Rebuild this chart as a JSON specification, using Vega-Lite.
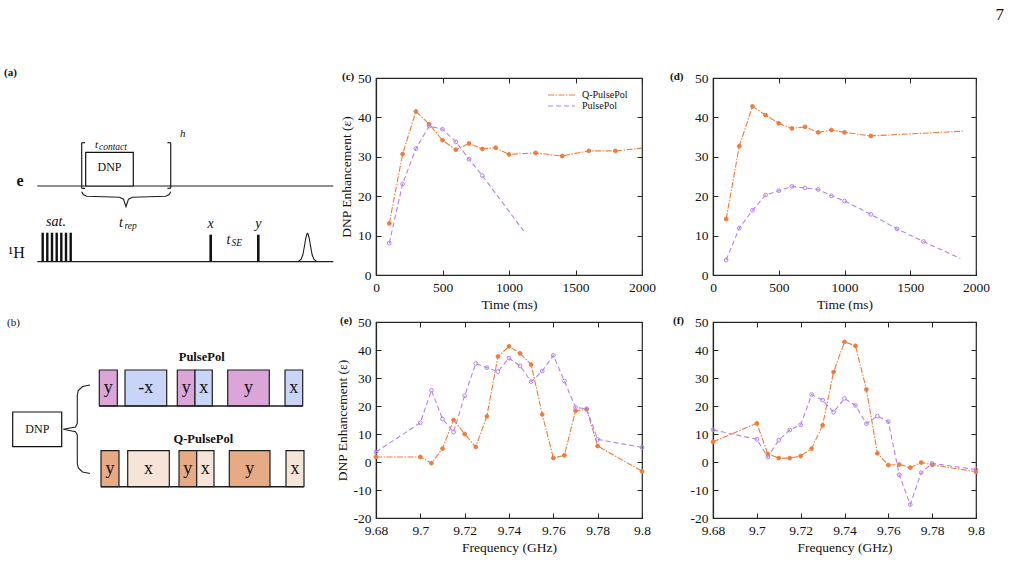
{
  "$schema": "https://vega.github.io/schema/vega-lite/v6.json",
  "background": "white",
  "padding": {"top": 6, "left": 0, "right": 0, "bottom": 0},
  "autosize": {"type": "pad"},
  "title": {"text": "7", "anchor": "end", "frame": "bounds", "dx": 14, "offset": 43, "fontSize": 17, "fontWeight": "normal", "font": "Liberation Serif", "color": "#111"},
  "columns": 3,
  "spacing": {"column": 71, "row": 47},
  "bounds": "flush",
  "resolve": {
    "scale": {"color": "independent", "strokeDash": "independent", "fill": "independent"}
  },
  "datasets": {
    "seqSegments": [
      {"x": 37.3, "y": 108, "x2": 333.3, "y2": 108},
      {"x": 37.3, "y": 183.7, "x2": 333.3, "y2": 183.7},
      {"x": 81.7, "y": 64.7, "x2": 81.7, "y2": 110.3},
      {"x": 81.7, "y": 64.7, "x2": 85, "y2": 64.7},
      {"x": 81.7, "y": 110.3, "x2": 85, "y2": 110.3},
      {"x": 170.7, "y": 64.7, "x2": 170.7, "y2": 110.3},
      {"x": 167.4, "y": 64.7, "x2": 170.7, "y2": 64.7},
      {"x": 167.4, "y": 110.3, "x2": 170.7, "y2": 110.3}
    ],
    "seqPulses": [
      {"x": 41.5, "x2": 43.9, "y": 154.7, "y2": 183.7},
      {"x": 46.1, "x2": 48.5, "y": 154.7, "y2": 183.7},
      {"x": 50.8, "x2": 53.2, "y": 154.7, "y2": 183.7},
      {"x": 55.5, "x2": 57.9, "y": 154.7, "y2": 183.7},
      {"x": 60.1, "x2": 62.5, "y": 154.7, "y2": 183.7},
      {"x": 64.8, "x2": 67.2, "y": 154.7, "y2": 183.7},
      {"x": 69.5, "x2": 71.9, "y": 154.7, "y2": 183.7},
      {"x": 209.4, "x2": 212.0, "y": 156.7, "y2": 183.7},
      {"x": 257.0, "x2": 259.6, "y": 156.7, "y2": 183.7}
    ],
    "seqBox": [{"x": 85.7, "x2": 133.3, "y": 74.3, "y2": 108}],
    "seqCurves": [
      {"part": "rep", "k": 1, "x": 81.7, "y": 113.7},
      {"part": "rep", "k": 2, "x": 83.2, "y": 116.6},
      {"part": "rep", "k": 3, "x": 86.7, "y": 118.3},
      {"part": "rep", "k": 4, "x": 119.5, "y": 119.2},
      {"part": "rep", "k": 5, "x": 123.5, "y": 121.2},
      {"part": "rep", "k": 6, "x": 126, "y": 128.7},
      {"part": "rep", "k": 7, "x": 128.5, "y": 121.2},
      {"part": "rep", "k": 8, "x": 132.5, "y": 119.2},
      {"part": "rep", "k": 9, "x": 165.7, "y": 118.3},
      {"part": "rep", "k": 10, "x": 169.2, "y": 116.6},
      {"part": "rep", "k": 11, "x": 170.7, "y": 113.7},
      {"part": "echo", "k": 1, "x": 298, "y": 183.7},
      {"part": "echo", "k": 2, "x": 301, "y": 181.5},
      {"part": "echo", "k": 3, "x": 302.8, "y": 177},
      {"part": "echo", "k": 4, "x": 304.3, "y": 169},
      {"part": "echo", "k": 5, "x": 305.7, "y": 160.5},
      {"part": "echo", "k": 6, "x": 307, "y": 155.8},
      {"part": "echo", "k": 7, "x": 307.5, "y": 155.3},
      {"part": "echo", "k": 8, "x": 308, "y": 155.8},
      {"part": "echo", "k": 9, "x": 309.3, "y": 160.5},
      {"part": "echo", "k": 10, "x": 310.7, "y": 169},
      {"part": "echo", "k": 11, "x": 312.2, "y": 177},
      {"part": "echo", "k": 12, "x": 314, "y": 181.5},
      {"part": "echo", "k": 13, "x": 317, "y": 183.7}
    ],
    "seqText": [
      {"x": 4, "y": -5, "label": "(a)", "role": "tag"},
      {"x": 20, "y": 102.7, "label": "e", "role": "spin"},
      {"x": 16.5, "y": 175, "label": "¹H", "role": "nucleus"},
      {"x": 109.5, "y": 89, "label": "DNP", "role": "box"},
      {"x": 182.7, "y": 56, "label": "h", "role": "symSmall"},
      {"x": 96.5, "y": 67, "label": "t", "role": "symSmall"},
      {"x": 99, "y": 69, "label": "contact", "role": "sub"},
      {"x": 121, "y": 144.7, "label": "t", "role": "sym"},
      {"x": 124.5, "y": 147.5, "label": "rep", "role": "sub"},
      {"x": 56, "y": 144.3, "label": "sat.", "role": "sym"},
      {"x": 210.7, "y": 146, "label": "x", "role": "sym"},
      {"x": 258.3, "y": 146, "label": "y", "role": "sym"},
      {"x": 228.5, "y": 162, "label": "t", "role": "sym"},
      {"x": 231.5, "y": 165, "label": "SE", "role": "sub"}
    ],
    "cycleLines": [
      {"x": 99.3, "y": 84, "x2": 302.7, "y2": 84},
      {"x": 101, "y": 164.7, "x2": 304, "y2": 164.7}
    ],
    "cycleBlocks": [
      {"x": 99.3, "x2": 117.3, "y": 48, "y2": 84, "pulse": "PulsePol y"},
      {"x": 125, "x2": 166.7, "y": 48, "y2": 84, "pulse": "PulsePol x"},
      {"x": 177.3, "x2": 195, "y": 48, "y2": 84, "pulse": "PulsePol y"},
      {"x": 195, "x2": 212.3, "y": 48, "y2": 84, "pulse": "PulsePol x"},
      {"x": 227.7, "x2": 269.3, "y": 48, "y2": 84, "pulse": "PulsePol y"},
      {"x": 285, "x2": 302.7, "y": 48, "y2": 84, "pulse": "PulsePol x"},
      {"x": 101, "x2": 119, "y": 128.7, "y2": 164.7, "pulse": "Q-PulsePol y"},
      {"x": 127.7, "x2": 169.3, "y": 128.7, "y2": 164.7, "pulse": "Q-PulsePol x"},
      {"x": 179, "x2": 196.7, "y": 128.7, "y2": 164.7, "pulse": "Q-PulsePol y"},
      {"x": 196.7, "x2": 214, "y": 128.7, "y2": 164.7, "pulse": "Q-PulsePol x"},
      {"x": 229.3, "x2": 270, "y": 128.7, "y2": 164.7, "pulse": "Q-PulsePol y"},
      {"x": 286, "x2": 304, "y": 128.7, "y2": 164.7, "pulse": "Q-PulsePol x"}
    ],
    "cycleBox": [{"x": 12.7, "x2": 61.7, "y": 90, "y2": 124.7}],
    "cycleBrace": [
      {"k": 1, "x": 90, "y": 63},
      {"k": 2, "x": 82.5, "y": 64.5},
      {"k": 3, "x": 78.3, "y": 68.5},
      {"k": 4, "x": 77.3, "y": 73},
      {"k": 5, "x": 77.3, "y": 101.3},
      {"k": 6, "x": 75.5, "y": 105},
      {"k": 7, "x": 63.3, "y": 107.3},
      {"k": 8, "x": 75.5, "y": 109.7},
      {"k": 9, "x": 77.3, "y": 113},
      {"k": 10, "x": 77.3, "y": 141.3},
      {"k": 11, "x": 78.3, "y": 146},
      {"k": 12, "x": 82.5, "y": 150},
      {"k": 13, "x": 90, "y": 151.5}
    ],
    "cycleText": [
      {"x": 7, "y": 0.7, "label": "(b)", "role": "tag"},
      {"x": 37.3, "y": 107.3, "label": "DNP", "role": "box"},
      {"x": 201.7, "y": 34.7, "label": "PulsePol", "role": "scheme"},
      {"x": 203.3, "y": 117.3, "label": "Q-PulsePol", "role": "scheme"},
      {"x": 108.3, "y": 66, "label": "y", "role": "phase"},
      {"x": 145.8, "y": 66, "label": "-x", "role": "phase"},
      {"x": 186.2, "y": 66, "label": "y", "role": "phase"},
      {"x": 203.7, "y": 66, "label": "x", "role": "phase"},
      {"x": 248.5, "y": 66, "label": "y", "role": "phase"},
      {"x": 293.8, "y": 66, "label": "x", "role": "phase"},
      {"x": 110, "y": 146.7, "label": "y", "role": "phase"},
      {"x": 148.5, "y": 146.7, "label": "x", "role": "phase"},
      {"x": 187.8, "y": 146.7, "label": "y", "role": "phase"},
      {"x": 205.3, "y": 146.7, "label": "x", "role": "phase"},
      {"x": 249.7, "y": 146.7, "label": "y", "role": "phase"},
      {"x": 295, "y": 146.7, "label": "x", "role": "phase"}
    ],
    "contactTimeA": [
      {"series": "Q-PulsePol", "time_ms": 100, "enh": 13.1},
      {"series": "Q-PulsePol", "time_ms": 200, "enh": 30.7},
      {"series": "Q-PulsePol", "time_ms": 300, "enh": 41.5},
      {"series": "Q-PulsePol", "time_ms": 400, "enh": 38.3},
      {"series": "Q-PulsePol", "time_ms": 500, "enh": 34.2},
      {"series": "Q-PulsePol", "time_ms": 600, "enh": 31.8},
      {"series": "Q-PulsePol", "time_ms": 700, "enh": 33.4},
      {"series": "Q-PulsePol", "time_ms": 800, "enh": 32.0},
      {"series": "Q-PulsePol", "time_ms": 900, "enh": 32.3},
      {"series": "Q-PulsePol", "time_ms": 1000, "enh": 30.6},
      {"series": "Q-PulsePol", "time_ms": 1200, "enh": 31.0},
      {"series": "Q-PulsePol", "time_ms": 1400, "enh": 30.2},
      {"series": "Q-PulsePol", "time_ms": 1600, "enh": 31.5},
      {"series": "Q-PulsePol", "time_ms": 1800, "enh": 31.5},
      {"series": "Q-PulsePol", "time_ms": 2000, "enh": 32.2},
      {"series": "PulsePol", "time_ms": 100, "enh": 8.1},
      {"series": "PulsePol", "time_ms": 200, "enh": 23.1},
      {"series": "PulsePol", "time_ms": 300, "enh": 32.1},
      {"series": "PulsePol", "time_ms": 400, "enh": 37.8},
      {"series": "PulsePol", "time_ms": 500, "enh": 37.0},
      {"series": "PulsePol", "time_ms": 600, "enh": 33.8},
      {"series": "PulsePol", "time_ms": 700, "enh": 29.4},
      {"series": "PulsePol", "time_ms": 800, "enh": 25.2},
      {"series": "PulsePol", "time_ms": 1110, "enh": 11.2}
    ],
    "contactTimeB": [
      {"series": "Q-PulsePol", "time_ms": 100, "enh": 14.2},
      {"series": "Q-PulsePol", "time_ms": 200, "enh": 32.7},
      {"series": "Q-PulsePol", "time_ms": 300, "enh": 42.8},
      {"series": "Q-PulsePol", "time_ms": 400, "enh": 40.6},
      {"series": "Q-PulsePol", "time_ms": 500, "enh": 38.5},
      {"series": "Q-PulsePol", "time_ms": 600, "enh": 37.2},
      {"series": "Q-PulsePol", "time_ms": 700, "enh": 37.6},
      {"series": "Q-PulsePol", "time_ms": 800, "enh": 36.2},
      {"series": "Q-PulsePol", "time_ms": 900, "enh": 36.8},
      {"series": "Q-PulsePol", "time_ms": 1000, "enh": 36.2},
      {"series": "Q-PulsePol", "time_ms": 1200, "enh": 35.3},
      {"series": "Q-PulsePol", "time_ms": 1900, "enh": 36.5},
      {"series": "PulsePol", "time_ms": 100, "enh": 3.8},
      {"series": "PulsePol", "time_ms": 200, "enh": 11.9},
      {"series": "PulsePol", "time_ms": 300, "enh": 16.4},
      {"series": "PulsePol", "time_ms": 400, "enh": 20.3},
      {"series": "PulsePol", "time_ms": 500, "enh": 21.4},
      {"series": "PulsePol", "time_ms": 600, "enh": 22.5},
      {"series": "PulsePol", "time_ms": 700, "enh": 22.1},
      {"series": "PulsePol", "time_ms": 800, "enh": 21.7},
      {"series": "PulsePol", "time_ms": 900, "enh": 20.1},
      {"series": "PulsePol", "time_ms": 1000, "enh": 18.8},
      {"series": "PulsePol", "time_ms": 1200, "enh": 15.4},
      {"series": "PulsePol", "time_ms": 1400, "enh": 11.7},
      {"series": "PulsePol", "time_ms": 1600, "enh": 8.5},
      {"series": "PulsePol", "time_ms": 1880, "enh": 4.2}
    ],
    "sweepA": [
      {"series": "Q-PulsePol", "freq_GHz": 9.68, "enh": 1.8},
      {"series": "Q-PulsePol", "freq_GHz": 9.7, "enh": 1.8},
      {"series": "Q-PulsePol", "freq_GHz": 9.705, "enh": -0.4},
      {"series": "Q-PulsePol", "freq_GHz": 9.71, "enh": 4.8},
      {"series": "Q-PulsePol", "freq_GHz": 9.715, "enh": 15.0},
      {"series": "Q-PulsePol", "freq_GHz": 9.72, "enh": 10.0},
      {"series": "Q-PulsePol", "freq_GHz": 9.725, "enh": 5.4},
      {"series": "Q-PulsePol", "freq_GHz": 9.73, "enh": 16.3},
      {"series": "Q-PulsePol", "freq_GHz": 9.735, "enh": 37.7},
      {"series": "Q-PulsePol", "freq_GHz": 9.74, "enh": 41.3},
      {"series": "Q-PulsePol", "freq_GHz": 9.745, "enh": 38.8},
      {"series": "Q-PulsePol", "freq_GHz": 9.75, "enh": 34.8},
      {"series": "Q-PulsePol", "freq_GHz": 9.755, "enh": 17.0},
      {"series": "Q-PulsePol", "freq_GHz": 9.76, "enh": 1.4},
      {"series": "Q-PulsePol", "freq_GHz": 9.765, "enh": 2.4},
      {"series": "Q-PulsePol", "freq_GHz": 9.77, "enh": 18.3},
      {"series": "Q-PulsePol", "freq_GHz": 9.775, "enh": 18.8},
      {"series": "Q-PulsePol", "freq_GHz": 9.78, "enh": 5.7},
      {"series": "Q-PulsePol", "freq_GHz": 9.8, "enh": -3.3},
      {"series": "PulsePol", "freq_GHz": 9.68, "enh": 3.6},
      {"series": "PulsePol", "freq_GHz": 9.7, "enh": 14.0},
      {"series": "PulsePol", "freq_GHz": 9.705, "enh": 25.6},
      {"series": "PulsePol", "freq_GHz": 9.71, "enh": 15.4},
      {"series": "PulsePol", "freq_GHz": 9.715, "enh": 10.7},
      {"series": "PulsePol", "freq_GHz": 9.72, "enh": 23.7},
      {"series": "PulsePol", "freq_GHz": 9.725, "enh": 35.2},
      {"series": "PulsePol", "freq_GHz": 9.73, "enh": 33.7},
      {"series": "PulsePol", "freq_GHz": 9.735, "enh": 32.3},
      {"series": "PulsePol", "freq_GHz": 9.74, "enh": 37.1},
      {"series": "PulsePol", "freq_GHz": 9.745, "enh": 34.3},
      {"series": "PulsePol", "freq_GHz": 9.75, "enh": 28.7},
      {"series": "PulsePol", "freq_GHz": 9.755, "enh": 32.5},
      {"series": "PulsePol", "freq_GHz": 9.76, "enh": 38.1},
      {"series": "PulsePol", "freq_GHz": 9.765, "enh": 28.9},
      {"series": "PulsePol", "freq_GHz": 9.77, "enh": 19.5},
      {"series": "PulsePol", "freq_GHz": 9.775, "enh": 19.0},
      {"series": "PulsePol", "freq_GHz": 9.78, "enh": 8.1},
      {"series": "PulsePol", "freq_GHz": 9.8, "enh": 5.2}
    ],
    "sweepB": [
      {"series": "Q-PulsePol", "freq_GHz": 9.68, "enh": 7.2},
      {"series": "Q-PulsePol", "freq_GHz": 9.7, "enh": 13.8},
      {"series": "Q-PulsePol", "freq_GHz": 9.705, "enh": 2.9},
      {"series": "Q-PulsePol", "freq_GHz": 9.71, "enh": 1.4},
      {"series": "Q-PulsePol", "freq_GHz": 9.715, "enh": 1.4},
      {"series": "Q-PulsePol", "freq_GHz": 9.72, "enh": 2.1},
      {"series": "Q-PulsePol", "freq_GHz": 9.725, "enh": 4.8},
      {"series": "Q-PulsePol", "freq_GHz": 9.73, "enh": 13.1},
      {"series": "Q-PulsePol", "freq_GHz": 9.735, "enh": 32.1},
      {"series": "Q-PulsePol", "freq_GHz": 9.74, "enh": 42.9},
      {"series": "Q-PulsePol", "freq_GHz": 9.745, "enh": 41.5},
      {"series": "Q-PulsePol", "freq_GHz": 9.75, "enh": 25.9},
      {"series": "Q-PulsePol", "freq_GHz": 9.755, "enh": 3.1},
      {"series": "Q-PulsePol", "freq_GHz": 9.76, "enh": -1.1},
      {"series": "Q-PulsePol", "freq_GHz": 9.765, "enh": -0.9},
      {"series": "Q-PulsePol", "freq_GHz": 9.77, "enh": -2.0},
      {"series": "Q-PulsePol", "freq_GHz": 9.775, "enh": -0.2},
      {"series": "Q-PulsePol", "freq_GHz": 9.78, "enh": -1.0},
      {"series": "Q-PulsePol", "freq_GHz": 9.8, "enh": -3.5},
      {"series": "PulsePol", "freq_GHz": 9.68, "enh": 11.5},
      {"series": "PulsePol", "freq_GHz": 9.7, "enh": 8.1},
      {"series": "PulsePol", "freq_GHz": 9.705, "enh": 1.8},
      {"series": "PulsePol", "freq_GHz": 9.71, "enh": 7.8},
      {"series": "PulsePol", "freq_GHz": 9.715, "enh": 11.4},
      {"series": "PulsePol", "freq_GHz": 9.72, "enh": 13.3},
      {"series": "PulsePol", "freq_GHz": 9.725, "enh": 24.1},
      {"series": "PulsePol", "freq_GHz": 9.73, "enh": 22.1},
      {"series": "PulsePol", "freq_GHz": 9.735, "enh": 17.8},
      {"series": "PulsePol", "freq_GHz": 9.74, "enh": 22.7},
      {"series": "PulsePol", "freq_GHz": 9.745, "enh": 20.2},
      {"series": "PulsePol", "freq_GHz": 9.75, "enh": 13.7},
      {"series": "PulsePol", "freq_GHz": 9.755, "enh": 16.4},
      {"series": "PulsePol", "freq_GHz": 9.76, "enh": 14.4},
      {"series": "PulsePol", "freq_GHz": 9.765, "enh": -4.6},
      {"series": "PulsePol", "freq_GHz": 9.77, "enh": -15.2},
      {"series": "PulsePol", "freq_GHz": 9.775, "enh": -3.8},
      {"series": "PulsePol", "freq_GHz": 9.78, "enh": -0.5},
      {"series": "PulsePol", "freq_GHz": 9.8, "enh": -2.7}
    ]
  },
  "concat": [
    {
      "width": 305,
      "height": 197,
      "view": {"stroke": null},
      "encoding": {
        "x": {"field": "x", "type": "quantitative", "scale": {"domain": [0, 305], "nice": false, "zero": false}, "axis": null},
        "y": {"field": "y", "type": "quantitative", "scale": {"domain": [0, 197], "nice": false, "zero": false, "reverse": true}, "axis": null}
      },
      "layer": [
        {"data": {"name": "seqSegments"}, "mark": {"type": "rule", "color": "#1e1e1e", "strokeWidth": 1.2}, "encoding": {"x2": {"field": "x2"}, "y2": {"field": "y2"}}},
        {"data": {"name": "seqPulses"}, "mark": {"type": "rect", "color": "#111111"}, "encoding": {"x2": {"field": "x2"}, "y2": {"field": "y2"}}},
        {"data": {"name": "seqBox"}, "mark": {"type": "rect", "fill": "white", "stroke": "#111111", "strokeWidth": 1.2}, "encoding": {"x2": {"field": "x2"}, "y2": {"field": "y2"}}},
        {"data": {"name": "seqCurves"}, "mark": {"type": "line", "color": "#1e1e1e", "strokeWidth": 1.1}, "encoding": {"detail": {"field": "part"}, "order": {"field": "k", "type": "quantitative"}}},
        {"data": {"name": "seqText"}, "transform": [{"filter": "datum.role === 'tag'"}], "mark": {"type": "text", "align": "left", "baseline": "middle", "fontSize": 11, "fontWeight": "bold", "font": "Liberation Serif", "color": "#111"}, "encoding": {"text": {"field": "label"}}},
        {"data": {"name": "seqText"}, "transform": [{"filter": "datum.role === 'spin'"}], "mark": {"type": "text", "align": "center", "baseline": "middle", "fontSize": 16, "fontWeight": "bold", "font": "Liberation Serif", "color": "#111"}, "encoding": {"text": {"field": "label"}}},
        {"data": {"name": "seqText"}, "transform": [{"filter": "datum.role === 'nucleus'"}], "mark": {"type": "text", "align": "center", "baseline": "middle", "fontSize": 16, "font": "Liberation Serif", "color": "#111"}, "encoding": {"text": {"field": "label"}}},
        {"data": {"name": "seqText"}, "transform": [{"filter": "datum.role === 'box'"}], "mark": {"type": "text", "align": "center", "baseline": "middle", "fontSize": 12, "font": "Liberation Serif", "color": "#111"}, "encoding": {"text": {"field": "label"}}},
        {"data": {"name": "seqText"}, "transform": [{"filter": "datum.role === 'sym'"}], "mark": {"type": "text", "align": "center", "baseline": "middle", "fontSize": 14, "fontStyle": "italic", "font": "Liberation Serif", "color": "#111"}, "encoding": {"text": {"field": "label"}}},
        {"data": {"name": "seqText"}, "transform": [{"filter": "datum.role === 'symSmall'"}], "mark": {"type": "text", "align": "center", "baseline": "middle", "fontSize": 11, "fontStyle": "italic", "font": "Liberation Serif", "color": "#111"}, "encoding": {"text": {"field": "label"}}},
        {"data": {"name": "seqText"}, "transform": [{"filter": "datum.role === 'sub'"}], "mark": {"type": "text", "align": "left", "baseline": "middle", "fontSize": 9.5, "fontStyle": "italic", "font": "Liberation Serif", "color": "#111"}, "encoding": {"text": {"field": "label"}}}
      ]
    },
    {
      "width": 266,
      "height": 197,
      "title": {"text": "(c)", "anchor": "start", "frame": "group", "dx": -34, "dy": 17, "offset": 0, "baseline": "middle", "fontSize": 11, "fontWeight": "bold", "font": "Liberation Serif", "color": "#111"},
      "data": {"name": "contactTimeA"},
      "resolve": {"axis": {"x": "independent", "y": "independent"}},
      "layer": [
        {
          "mark": {"type": "line", "strokeWidth": 1.1},
          "encoding": {
            "x": {"field": "time_ms", "type": "quantitative", "scale": {"domain": [0, 2000], "nice": false, "zero": false}, "axis": {"orient": "bottom", "values": [0, 500, 1000, 1500, 2000], "labelExpr": "datum.value + ''", "title": "Time (ms)"}},
            "y": {"field": "enh", "type": "quantitative", "scale": {"domain": [0, 50], "nice": false}, "axis": {"orient": "left", "values": [0, 10, 20, 30, 40, 50], "title": "DNP Enhancement (ε)"}},
            "color": {"field": "series", "type": "nominal", "scale": {"domain": ["Q-PulsePol", "PulsePol"], "range": ["#ef7c3a", "#b481f0"]}, "legend": {"title": null, "orient": "none", "legendX": 171, "legendY": 11.5, "symbolType": "stroke", "symbolSize": 729, "symbolStrokeWidth": 1.2, "clipHeight": 11, "labelFontSize": 10, "labelFont": "Liberation Serif", "labelColor": "#111", "rowPadding": 0, "labelOffset": 6, "padding": 0}},
            "strokeDash": {"field": "series", "type": "nominal", "scale": {"domain": ["Q-PulsePol", "PulsePol"], "range": [[6, 1.5, 1.5, 1.5], [5, 3]]}, "legend": {"title": null, "orient": "none", "legendX": 171, "legendY": 11.5, "symbolType": "stroke", "symbolSize": 729, "symbolStrokeWidth": 1.2, "clipHeight": 11, "labelFontSize": 10, "labelFont": "Liberation Serif", "labelColor": "#111", "rowPadding": 0, "labelOffset": 6, "padding": 0}}
          }
        },
        {
          "transform": [
            {"window": [{"op": "rank", "as": "fromEnd"}], "sort": [{"field": "time_ms", "order": "descending"}], "groupby": ["series"]},
            {"filter": "datum.fromEnd > 1"}
          ],
          "mark": {"type": "point", "filled": false, "size": 14, "strokeWidth": 1, "opacity": 1},
          "encoding": {
            "x": {"field": "time_ms", "type": "quantitative", "axis": {"orient": "top", "values": [0, 500, 1000, 1500, 2000], "labels": false, "title": null, "domain": false}},
            "y": {"field": "enh", "type": "quantitative", "axis": {"orient": "right", "values": [0, 10, 20, 30, 40, 50], "labels": false, "title": null, "domain": false}},
            "color": {"field": "series", "type": "nominal", "legend": {"title": null, "orient": "none", "legendX": 171, "legendY": 11.5, "symbolType": "stroke", "symbolSize": 729, "symbolStrokeWidth": 1.2, "clipHeight": 11, "labelFontSize": 10, "labelFont": "Liberation Serif", "labelColor": "#111", "rowPadding": 0, "labelOffset": 6, "padding": 0}},
            "fill": {"field": "series", "type": "nominal", "scale": {"domain": ["Q-PulsePol", "PulsePol"], "range": ["#ef7c3a", "transparent"]}, "legend": null}
          }
        }
      ]
    },
    {
      "width": 263,
      "height": 197,
      "title": {"text": "(d)", "anchor": "start", "frame": "group", "dx": -43, "dy": 17, "offset": 0, "baseline": "middle", "fontSize": 11, "fontWeight": "bold", "font": "Liberation Serif", "color": "#111"},
      "data": {"name": "contactTimeB"},
      "resolve": {"axis": {"x": "independent", "y": "independent"}},
      "layer": [
        {
          "mark": {"type": "line", "strokeWidth": 1.1},
          "encoding": {
            "x": {"field": "time_ms", "type": "quantitative", "scale": {"domain": [0, 2000], "nice": false, "zero": false}, "axis": {"orient": "bottom", "values": [0, 500, 1000, 1500, 2000], "labelExpr": "datum.value + ''", "title": "Time (ms)"}},
            "y": {"field": "enh", "type": "quantitative", "scale": {"domain": [0, 50], "nice": false}, "axis": {"orient": "left", "values": [0, 10, 20, 30, 40, 50], "title": null}},
            "color": {"field": "series", "type": "nominal", "scale": {"domain": ["Q-PulsePol", "PulsePol"], "range": ["#ef7c3a", "#b481f0"]}, "legend": null},
            "strokeDash": {"field": "series", "type": "nominal", "scale": {"domain": ["Q-PulsePol", "PulsePol"], "range": [[6, 1.5, 1.5, 1.5], [5, 3]]}, "legend": null}
          }
        },
        {
          "transform": [
            {"window": [{"op": "rank", "as": "fromEnd"}], "sort": [{"field": "time_ms", "order": "descending"}], "groupby": ["series"]},
            {"filter": "datum.fromEnd > 1"}
          ],
          "mark": {"type": "point", "filled": false, "size": 14, "strokeWidth": 1, "opacity": 1},
          "encoding": {
            "x": {"field": "time_ms", "type": "quantitative", "axis": {"orient": "top", "values": [0, 500, 1000, 1500, 2000], "labels": false, "title": null, "domain": false}},
            "y": {"field": "enh", "type": "quantitative", "axis": {"orient": "right", "values": [0, 10, 20, 30, 40, 50], "labels": false, "title": null, "domain": false}},
            "color": {"field": "series", "type": "nominal", "legend": null},
            "fill": {"field": "series", "type": "nominal", "scale": {"domain": ["Q-PulsePol", "PulsePol"], "range": ["#ef7c3a", "transparent"]}, "legend": null}
          }
        }
      ]
    },
    {
      "width": 305,
      "height": 196,
      "view": {"stroke": null},
      "encoding": {
        "x": {"field": "x", "type": "quantitative", "scale": {"domain": [0, 305], "nice": false, "zero": false}, "axis": null},
        "y": {"field": "y", "type": "quantitative", "scale": {"domain": [0, 196], "nice": false, "zero": false, "reverse": true}, "axis": null}
      },
      "layer": [
        {"data": {"name": "cycleBlocks"}, "mark": {"type": "rect", "stroke": "#1e1e1e", "strokeWidth": 1.2}, "encoding": {"x2": {"field": "x2"}, "y2": {"field": "y2"}, "fill": {"field": "pulse", "type": "nominal", "scale": {"domain": ["PulsePol y", "PulsePol x", "Q-PulsePol y", "Q-PulsePol x"], "range": ["#dba5d8", "#c8d5f8", "#e6aa85", "#f7e4d8"]}, "legend": null}}},
        {"data": {"name": "cycleLines"}, "mark": {"type": "rule", "color": "#1e1e1e", "strokeWidth": 1.6}, "encoding": {"x2": {"field": "x2"}, "y2": {"field": "y2"}}},
        {"data": {"name": "cycleBox"}, "mark": {"type": "rect", "fill": "white", "stroke": "#111111", "strokeWidth": 1.2}, "encoding": {"x2": {"field": "x2"}, "y2": {"field": "y2"}}},
        {"data": {"name": "cycleBrace"}, "mark": {"type": "line", "color": "#1e1e1e", "strokeWidth": 1.1}, "encoding": {"order": {"field": "k", "type": "quantitative"}}},
        {"data": {"name": "cycleText"}, "transform": [{"filter": "datum.role === 'tag'"}], "mark": {"type": "text", "align": "left", "baseline": "middle", "fontSize": 11, "font": "Liberation Serif", "color": "#111"}, "encoding": {"text": {"field": "label"}}},
        {"data": {"name": "cycleText"}, "transform": [{"filter": "datum.role === 'box'"}], "mark": {"type": "text", "align": "center", "baseline": "middle", "fontSize": 12, "font": "Liberation Serif", "color": "#111"}, "encoding": {"text": {"field": "label"}}},
        {"data": {"name": "cycleText"}, "transform": [{"filter": "datum.role === 'scheme'"}], "mark": {"type": "text", "align": "center", "baseline": "middle", "fontSize": 12.5, "fontWeight": "bold", "font": "Liberation Serif", "color": "#111"}, "encoding": {"text": {"field": "label"}}},
        {"data": {"name": "cycleText"}, "transform": [{"filter": "datum.role === 'phase'"}], "mark": {"type": "text", "align": "center", "baseline": "middle", "fontSize": 18, "font": "Liberation Serif", "color": "#111"}, "encoding": {"text": {"field": "label"}}}
      ]
    },
    {
      "width": 266,
      "height": 196,
      "title": {"text": "(e)", "anchor": "start", "frame": "group", "dx": -36, "dy": 17, "offset": 0, "baseline": "middle", "fontSize": 11, "fontWeight": "bold", "font": "Liberation Serif", "color": "#111"},
      "data": {"name": "sweepA"},
      "resolve": {"axis": {"x": "independent", "y": "independent"}},
      "layer": [
        {
          "mark": {"type": "line", "strokeWidth": 1.1},
          "encoding": {
            "x": {"field": "freq_GHz", "type": "quantitative", "scale": {"domain": [9.68, 9.8], "nice": false, "zero": false}, "axis": {"orient": "bottom", "values": [9.68, 9.7, 9.72, 9.74, 9.76, 9.78, 9.8], "labelExpr": "datum.value + ''", "title": "Frequency (GHz)"}},
            "y": {"field": "enh", "type": "quantitative", "scale": {"domain": [-20, 50], "nice": false, "zero": false}, "axis": {"orient": "left", "values": [-20, -10, 0, 10, 20, 30, 40, 50], "labelExpr": "datum.value + ''", "title": "DNP Enhancement (ε)"}},
            "color": {"field": "series", "type": "nominal", "scale": {"domain": ["Q-PulsePol", "PulsePol"], "range": ["#ef7c3a", "#b481f0"]}, "legend": null},
            "strokeDash": {"field": "series", "type": "nominal", "scale": {"domain": ["Q-PulsePol", "PulsePol"], "range": [[6, 1.5, 1.5, 1.5], [5, 3]]}, "legend": null}
          }
        },
        {
          "mark": {"type": "point", "filled": false, "size": 14, "strokeWidth": 1, "opacity": 1},
          "encoding": {
            "x": {"field": "freq_GHz", "type": "quantitative", "axis": {"orient": "top", "values": [9.68, 9.7, 9.72, 9.74, 9.76, 9.78, 9.8], "labels": false, "title": null, "domain": false}},
            "y": {"field": "enh", "type": "quantitative", "axis": {"orient": "right", "values": [-20, -10, 0, 10, 20, 30, 40, 50], "labels": false, "title": null, "domain": false}},
            "color": {"field": "series", "type": "nominal", "legend": null},
            "fill": {"field": "series", "type": "nominal", "scale": {"domain": ["Q-PulsePol", "PulsePol"], "range": ["#ef7c3a", "transparent"]}, "legend": null}
          }
        }
      ]
    },
    {
      "width": 263,
      "height": 196,
      "title": {"text": "(f)", "anchor": "start", "frame": "group", "dx": -40, "dy": 17, "offset": 0, "baseline": "middle", "fontSize": 11, "fontWeight": "bold", "font": "Liberation Serif", "color": "#111"},
      "data": {"name": "sweepB"},
      "resolve": {"axis": {"x": "independent", "y": "independent"}},
      "layer": [
        {
          "mark": {"type": "line", "strokeWidth": 1.1},
          "encoding": {
            "x": {"field": "freq_GHz", "type": "quantitative", "scale": {"domain": [9.68, 9.8], "nice": false, "zero": false}, "axis": {"orient": "bottom", "values": [9.68, 9.7, 9.72, 9.74, 9.76, 9.78, 9.8], "labelExpr": "datum.value + ''", "title": "Frequency (GHz)"}},
            "y": {"field": "enh", "type": "quantitative", "scale": {"domain": [-20, 50], "nice": false, "zero": false}, "axis": {"orient": "left", "values": [-20, -10, 0, 10, 20, 30, 40, 50], "labelExpr": "datum.value + ''", "title": null}},
            "color": {"field": "series", "type": "nominal", "scale": {"domain": ["Q-PulsePol", "PulsePol"], "range": ["#ef7c3a", "#b481f0"]}, "legend": null},
            "strokeDash": {"field": "series", "type": "nominal", "scale": {"domain": ["Q-PulsePol", "PulsePol"], "range": [[6, 1.5, 1.5, 1.5], [5, 3]]}, "legend": null}
          }
        },
        {
          "mark": {"type": "point", "filled": false, "size": 14, "strokeWidth": 1, "opacity": 1},
          "encoding": {
            "x": {"field": "freq_GHz", "type": "quantitative", "axis": {"orient": "top", "values": [9.68, 9.7, 9.72, 9.74, 9.76, 9.78, 9.8], "labels": false, "title": null, "domain": false}},
            "y": {"field": "enh", "type": "quantitative", "axis": {"orient": "right", "values": [-20, -10, 0, 10, 20, 30, 40, 50], "labels": false, "title": null, "domain": false}},
            "color": {"field": "series", "type": "nominal", "legend": null},
            "fill": {"field": "series", "type": "nominal", "scale": {"domain": ["Q-PulsePol", "PulsePol"], "range": ["#ef7c3a", "transparent"]}, "legend": null}
          }
        }
      ]
    }
  ],
  "config": {
    "font": "Liberation Serif",
    "view": {"stroke": "#262626", "strokeWidth": 1.2},
    "axis": {
      "grid": false,
      "domainColor": "#262626",
      "domainWidth": 1.2,
      "tickColor": "#262626",
      "tickSize": -5,
      "tickWidth": 1,
      "labelPadding": 10,
      "labelFlush": false,
      "labelOverlap": false,
      "labelBound": false,
      "labelFont": "Liberation Serif",
      "labelFontSize": 13.5,
      "labelColor": "#111",
      "titleFont": "Liberation Serif",
      "titleFontSize": 13.5,
      "titleFontWeight": "normal",
      "titleColor": "#111",
      "titlePadding": 4
    }
  }
}
